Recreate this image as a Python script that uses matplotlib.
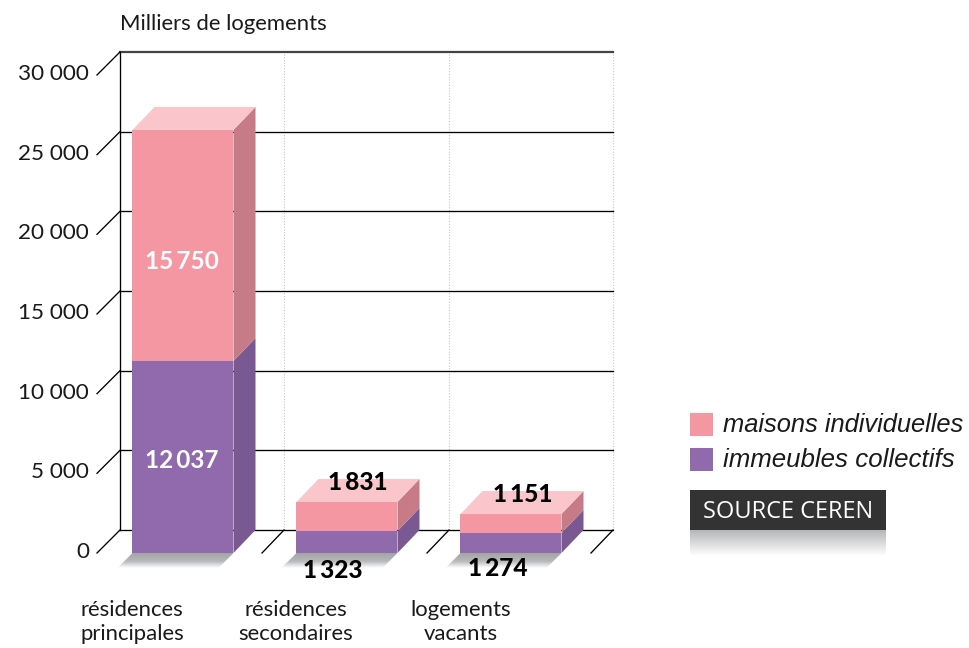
import numpy as np
import matplotlib
matplotlib.use("Agg")
import matplotlib.pyplot as plt
from matplotlib.patches import Polygon, Rectangle

plt.rcParams["font.family"] = ["Lato", "DejaVu Sans"]

categories = ["résidences\nprincipales", "résidences\nsecondaires", "logements\nvacants"]
# heights as read against the axis (the first pink block is drawn shorter than its label)
immeubles = [12050, 1380, 1255]
maisons = [14500, 1820, 1190]
immeubles_labels = ["12\u2009037", "1\u2009323", "1\u2009274"]
maisons_labels = ["15\u2009750", "1\u2009831", "1\u2009151"]
y_ticks = [0, 5000, 10000, 15000, 20000, 25000, 30000]
y_tick_labels = ["0", "5 000", "10 000", "15 000", "20 000", "25 000", "30 000"]

PINK, PINK_TOP, PINK_SIDE = "#f597a3", "#fac6cb", "#c67b87"
PURPLE, PURPLE_SIDE = "#9169ad", "#7a5892"

# scale of the value axis, pixels per logement unit
SCALE = 79.67 / 5000
Y0 = 553


def val(py):
    # picture row to value on the y axis
    return (Y0 - py) / SCALE


DEPTH_X = 22
DEPTH_Y = 23 / SCALE
BAR_W = 101
STEP = 164

fig = plt.figure(figsize=(9.69, 6.48), dpi=100)
ax = fig.add_axes([0, 0, 1, 1])
ax.set_xlim(0, 969)
ax.set_ylim(val(648), val(0))
ax.axis("off")

back_left, back_right = 120, 613

# grid on the back wall
for v in y_ticks:
    lw = 1.6 if v == 30000 else 0.95
    col = "#444444" if v == 30000 else "black"
    ax.plot([back_left, back_right], [v + DEPTH_Y] * 2, color=col, lw=lw, zorder=2)
    ax.plot([back_left, back_left - DEPTH_X - 1], [v + DEPTH_Y, v], color="black", lw=0.95, zorder=2)
ax.plot([back_left, back_left], [DEPTH_Y, 30000 + DEPTH_Y], color="black", lw=0.95, zorder=2)
for x in [284, 449, 613]:
    ax.plot([x, x], [DEPTH_Y, 30000 + DEPTH_Y], color="#c4c4c4", lw=0.8, ls=(0, (1, 1.5)), zorder=1)
    ax.plot([x, x - DEPTH_X], [DEPTH_Y, 0], color="black", lw=0.95, zorder=2)

gradient = np.linspace(0, 1, 64).reshape(-1, 1)
shadow_cmap = matplotlib.colors.LinearSegmentedColormap.from_list(
    "sh", [(0, "#a3a4a6"), (0.55, "#b8b9bb"), (1, "#ffffff")])

label_x = [132, 296, 461]

for i in range(len(categories)):
    x = 132.5 + i * STEP
    a, b = immeubles[i], maisons[i]
    top = a + b

    # floor shadow
    im = ax.imshow(gradient, cmap=shadow_cmap, aspect="auto", zorder=3,
                   extent=[x - 16, x + BAR_W, val(568), 0])
    sh = Polygon([(x, 0), (x + BAR_W, 0), (x + BAR_W - 15, val(568)), (x - 15, val(568))],
                 transform=ax.transData, fc="none", ec="none")
    ax.add_patch(sh)
    im.set_clip_path(sh)

    ax.add_patch(Rectangle((x, 0), BAR_W, a, fc=PURPLE, ec="none", zorder=4))
    ax.add_patch(Rectangle((x, a), BAR_W, b, fc=PINK, ec="none", zorder=4))
    ax.add_patch(Polygon([(x + BAR_W, 0), (x + BAR_W + DEPTH_X, DEPTH_Y),
                          (x + BAR_W + DEPTH_X, a + DEPTH_Y), (x + BAR_W, a)],
                         fc=PURPLE_SIDE, ec="none", zorder=4))
    ax.add_patch(Polygon([(x + BAR_W, a), (x + BAR_W + DEPTH_X, a + DEPTH_Y),
                          (x + BAR_W + DEPTH_X, top + DEPTH_Y), (x + BAR_W, top)],
                         fc=PINK_SIDE, ec="none", zorder=4))
    ax.add_patch(Polygon([(x, top), (x + BAR_W, top), (x + BAR_W + DEPTH_X, top + DEPTH_Y),
                          (x + DEPTH_X, top + DEPTH_Y)],
                         fc=PINK_TOP, ec="none", zorder=4))

    line1, line2 = categories[i].split("\n")
    ax.text(label_x[i], val(610), line1, ha="center", va="center", fontsize=15.9, color="#1a1a1a")
    ax.text(label_x[i], val(634), line2, ha="center", va="center", fontsize=15.9, color="#1a1a1a")

# value labels
ax.text(182, val(261), maisons_labels[0], color="white", fontsize=17.6, fontweight="bold", ha="center", va="center", zorder=6)
ax.text(182, val(460), immeubles_labels[0], color="white", fontsize=17.6, fontweight="bold", ha="center", va="center", zorder=6)
ax.text(358, val(482), maisons_labels[1], color="black", fontsize=17.6, fontweight="black", ha="center", va="center", zorder=6)
ax.text(333, val(570), immeubles_labels[1], color="black", fontsize=17.6, fontweight="black", ha="center", va="center", zorder=6)
ax.text(523, val(495), maisons_labels[2], color="black", fontsize=17.6, fontweight="black", ha="center", va="center", zorder=6)
ax.text(498, val(569), immeubles_labels[2], color="black", fontsize=17.6, fontweight="black", ha="center", va="center", zorder=6)

for v, lab in zip(y_ticks, y_tick_labels):
    ax.text(89, v + 1 / SCALE, lab, ha="right", va="center", fontsize=16.2, color="#1a1a1a")

ax.text(120, val(24), "Milliers de logements", ha="left", va="center", fontsize=15.9, color="#1a1a1a")

# legend
ax.add_patch(Rectangle((690, val(436)), 23, 23 / SCALE, fc=PINK, ec="none"))
ax.add_patch(Rectangle((690, val(471)), 23, 23 / SCALE, fc=PURPLE, ec="none"))
ax.text(723, val(425), "maisons individuelles", family="Liberation Sans", style="italic",
        fontsize=18.4, ha="left", va="center", color="#1a1a1a")
ax.text(723, val(460), "immeubles collectifs", family="Liberation Sans", style="italic",
        fontsize=18.6, ha="left", va="center", color="#1a1a1a")

# source box with its reflection
ax.add_patch(Rectangle((690, val(530)), 196, 40 / SCALE, fc="#333333", ec="none"))
ref_cmap = matplotlib.colors.LinearSegmentedColormap.from_list("ref", ["#b5b6b8", "#ffffff"])
ax.imshow(gradient, cmap=ref_cmap, aspect="auto", extent=[690, 886, val(556), val(530)], zorder=1)
ax.text(788, val(512), "SOURCE CEREN", color="white", fontsize=17, ha="center", va="center",
        family="Open Sans")

# imshow resets the limits
ax.set_xlim(0, 969)
ax.set_ylim(val(648), val(0))

fig.savefig("out.png", dpi=100)
